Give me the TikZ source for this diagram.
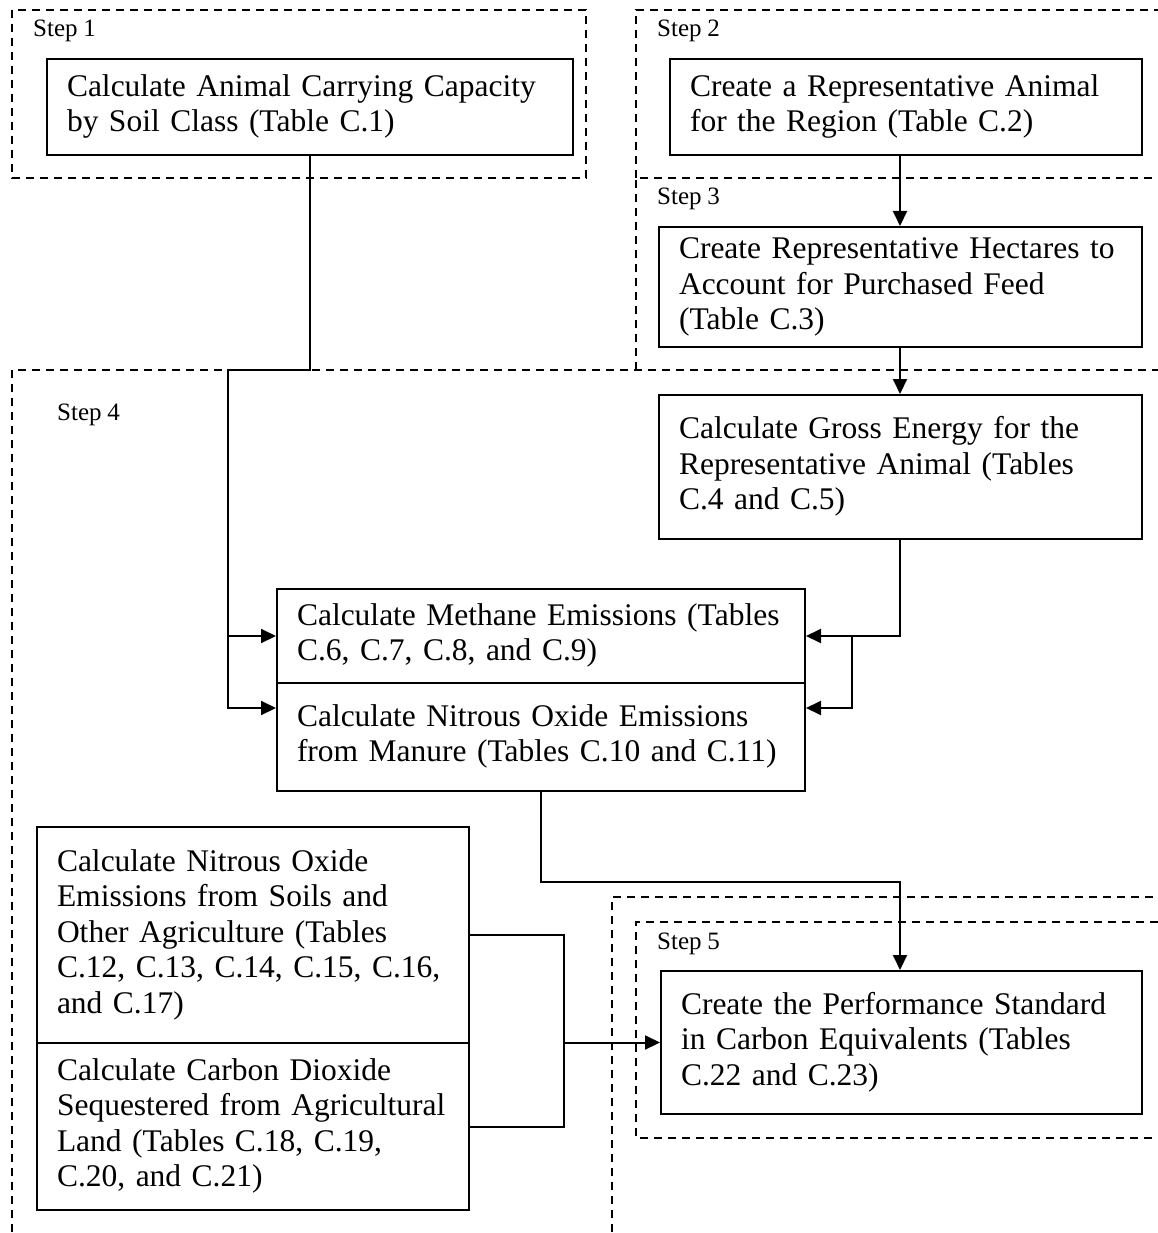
\documentclass[tikz,border=0pt]{standalone}
\usepackage{fontspec}
\setmainfont[WordSpace=0.9]{Liberation Serif}
\usetikzlibrary{arrows.meta,calc}
\newcommand{\boxlines}[1]{\begin{tabular}{@{}l@{}}#1\end{tabular}}
\begin{document}
\begin{tikzpicture}[x=1pt,y=-1pt,
  box/.style={draw, line width=2pt, anchor=north west, align=left, inner xsep=20pt, inner ysep=0pt, font=\fontsize{31.5}{35.5}\selectfont},
  stepframe/.style={draw, dash pattern=on 8pt off 6pt, line width=1.5pt},
  steplabel/.style={anchor=base west, inner sep=0pt, font=\fontsize{25}{28}\selectfont},
  link/.style={draw, line width=2pt},
  arr/.style={link, -{Triangle[length=15pt,width=14pt]}}]
\useasboundingbox (0,0) rectangle (1158,1233);
\clip (0,0) rectangle (1158,1233);

% step frames
\draw[stepframe] (12,10) rectangle (586,178);
\draw[stepframe] (636,178) -- (636,10) -- (1180,10);
\draw[stepframe] (636,370) -- (636,178) -- (1180,178);
\draw[stepframe] (12,1260) -- (12,370) -- (1180,370);
\draw[stepframe] (612,1260) -- (612,897) -- (1180,897);
\draw[stepframe] (1180,1138) -- (636,1138) -- (636,922) -- (1180,922);

\node[steplabel] (l1) at (33,37) {Step 1};
\node[steplabel] (l2) at (657,37) {Step 2};
\node[steplabel] (l3) at (657,205) {Step 3};
\node[steplabel] (l4) at (57,420) {Step 4};
\node[steplabel] (l5) at (657,949) {Step 5};

% boxes
\node[box, text width=486pt, minimum height=96pt] (box1) at (46,58)
  {\boxlines{Calculate Animal Carrying Capacity\\by Soil Class (Table C.1)}};
\node[box, text width=432pt, minimum height=96pt] (box2) at (669,58)
  {\boxlines{Create a Representative Animal\\for the Region (Table C.2)}};
\node[box, text width=443pt, minimum height=120pt] (box3) at (658,226)
  {\boxlines{Create Representative Hectares to\\Account for Purchased Feed\\(Table C.3)}};
\node[box, text width=443pt, minimum height=144pt] (gross) at (658,394)
  {\boxlines{Calculate Gross Energy for the\\Representative Animal (Tables\\C.4 and C.5)}};
\node[box, text width=488pt, minimum height=94pt] (meth) at (276,588)
  {\boxlines{Calculate Methane Emissions (Tables\\C.6, C.7, C.8, and C.9)}};
\node[box, text width=488pt, minimum height=108pt] (nitr) at (276,682)
  {\boxlines{Calculate Nitrous Oxide Emissions\\from Manure (Tables C.10 and C.11)}};
\node[box, text width=392pt, minimum height=216pt] (left1) at (36,826)
  {\boxlines{Calculate Nitrous Oxide\\Emissions from Soils and\\Other Agriculture (Tables\\C.12, C.13, C.14, C.15, C.16,\\and C.17)}};
\node[box, text width=392pt, minimum height=167pt] (left2) at (36,1042)
  {\boxlines{Calculate Carbon Dioxide\\Sequestered from Agricultural\\Land (Tables C.18, C.19,\\C.20, and C.21)}};
\node[box, text width=441pt, minimum height=143pt] (std) at (660,970)
  {\boxlines{Create the Performance Standard\\in Carbon Equivalents (Tables\\C.22 and C.23)}};

% connectors
\coordinate (xr) at (900,0);
\coordinate (br) at (852,0);
\coordinate (lx) at (228,370);
\coordinate (bx) at (564,0);

\draw[arr] (box2.south -| xr) -- (box3.north -| xr);
\draw[arr] (box3.south -| xr) -- (gross.north -| xr);
\draw[arr] (gross.south -| xr) |- (meth.east);
\draw[arr] (br |- meth.east) |- ($(nitr.north east)+(0,26)$);
\draw[arr] (box1.south) |- (lx) |- ($(nitr.north west)+(0,26)$);
\draw[arr] (lx |- meth.west) -- (meth.west);
\draw[arr] (nitr.south) -- ++(0,90) -| (std.north -| xr);
\draw[link] (left1.east) -| (bx |- left2.east) -- (left2.east);
\draw[arr] (bx |- std.west) -- (std.west);
\end{tikzpicture}
\end{document}
